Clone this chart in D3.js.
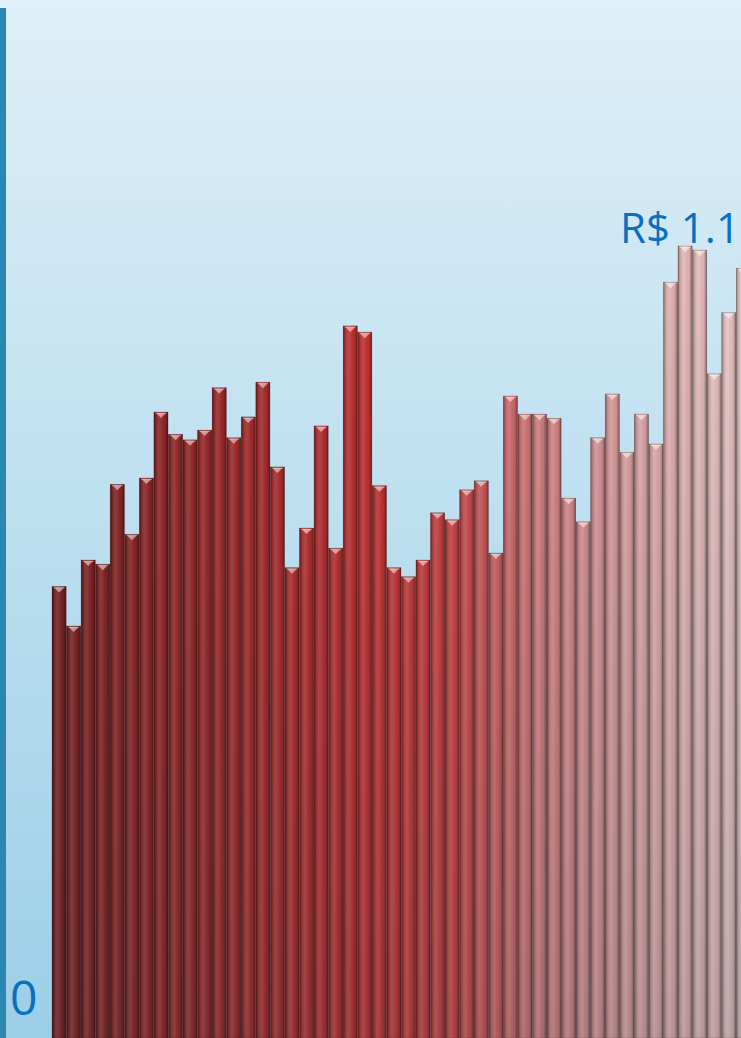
<!DOCTYPE html>
<html>
<head>
<meta charset="utf-8">
<script src="https://cdn.jsdelivr.net/npm/d3@7"></script>
<style>
  body { margin: 0; background: #fff; }
  svg { display: block; }
</style>
</head>
<body>
<svg width="741" height="1038"></svg>
<script>
// Monthly values (R$ bi)
var values = [0.650, 0.593, 0.688, 0.682, 0.797, 0.725, 0.806, 0.901, 0.869, 0.861,
              0.875, 0.936, 0.864, 0.894, 0.944, 0.822, 0.677, 0.734, 0.881, 0.705,
              1.025, 1.016, 0.795, 0.677, 0.664, 0.688, 0.756, 0.746, 0.789, 0.802,
              0.698, 0.924, 0.898, 0.898, 0.892, 0.777, 0.743, 0.864, 0.927, 0.843,
              0.898, 0.855, 1.088, 1.140, 1.134, 0.956, 1.044, 1.108];
var categories = values.map(function(d, i) { return "p" + (i + 1); });
var maxLabel = "R$ 1.1";
var zeroLabel = "0";

var svg = d3.select("svg"),
    width = +svg.attr("width"),
    height = +svg.attr("height");

var defs = svg.append("defs");

// background gradient
var bg = defs.append("linearGradient").attr("id", "bg")
    .attr("x1", 0).attr("y1", 0).attr("x2", 0).attr("y2", 1);
bg.append("stop").attr("offset", 0).attr("stop-color", "#dfeff8");
bg.append("stop").attr("offset", 1).attr("stop-color", "#9bcfe7");

// cylinder shading across each bar
var cyl = defs.append("linearGradient").attr("id", "cyl")
    .attr("x1", 0).attr("y1", 0).attr("x2", 1).attr("y2", 0);
[[0, "#000", 0.45], [0.1, "#000", 0.18], [0.35, "#fff", 0.1], [0.5, "#fff", 0.08],
 [0.75, "#000", 0.02], [0.9, "#000", 0.2], [1, "#000", 0.5]].forEach(function(s) {
  cyl.append("stop").attr("offset", s[0]).attr("stop-color", s[1]).attr("stop-opacity", s[2]);
});

// darkening toward the bottom of the plot
var fade = defs.append("linearGradient").attr("id", "fade")
    .attr("gradientUnits", "userSpaceOnUse")
    .attr("x1", 0).attr("y1", 240).attr("x2", 0).attr("y2", height);
fade.append("stop").attr("offset", 0).attr("stop-color", "#2a3440").attr("stop-opacity", 0);
fade.append("stop").attr("offset", 1).attr("stop-color", "#2a3440").attr("stop-opacity", 0.22);

svg.append("rect")
    .attr("width", width).attr("height", height)
    .attr("fill", "url(#bg)");
svg.append("rect")
    .attr("width", width).attr("height", 8)
    .attr("fill", "#e2f1f9");
svg.append("rect")
    .attr("y", 8).attr("width", 6).attr("height", height - 8)
    .attr("fill", "#2b86b2");

var x = d3.scaleBand()
    .domain(categories)
    .range([52, 52 + categories.length * 14.55])
    .paddingInner(0.03);

var y = d3.scaleLinear()
    .domain([0, d3.max(values)])
    .range([height, 246]);

var color = d3.scaleLinear()
    .domain([0, 12, 22, 27, 33, 40, 47])
    .range(["#7e1f1f", "#a22828", "#c53131", "#cb4242", "#d57e7e", "#dea7a7", "#e9c6c6"]);

var bars = svg.append("g")
    .attr("class", "bars")
  .selectAll("g")
  .data(values)
  .enter().append("g");

bars.append("rect")
    .attr("x", function(d, i) { return x(categories[i]); })
    .attr("y", function(d) { return y(d); })
    .attr("width", x.bandwidth())
    .attr("height", function(d) { return height - y(d); })
    .attr("fill", function(d, i) { return color(i); });

bars.append("rect")
    .attr("x", function(d, i) { return x(categories[i]); })
    .attr("y", function(d) { return y(d); })
    .attr("width", x.bandwidth())
    .attr("height", function(d) { return height - y(d); })
    .attr("fill", "url(#fade)");

bars.append("rect")
    .attr("x", function(d, i) { return x(categories[i]); })
    .attr("y", function(d) { return y(d); })
    .attr("width", x.bandwidth())
    .attr("height", function(d) { return height - y(d); })
    .attr("fill", "url(#cyl)")
    .attr("stroke", "rgba(50,20,20,0.35)")
    .attr("stroke-width", 0.6);

// light bevel on each bar top
bars.append("path")
    .attr("d", function(d, i) {
      var cx = x(categories[i]) + x.bandwidth() / 2, ty = y(d) + 1;
      return "M" + (cx - 5) + "," + ty + "L" + (cx + 5) + "," + ty + "L" + cx + "," + (ty + 5) + "Z";
    })
    .attr("fill", "#fff")
    .attr("fill-opacity", 0.5);

bars.append("rect")
    .attr("x", function(d, i) { return x(categories[i]) + 1.5; })
    .attr("y", function(d) { return y(d) + 0.5; })
    .attr("width", x.bandwidth() - 3)
    .attr("height", 1.5)
    .attr("fill", "#fff")
    .attr("fill-opacity", 0.25);

svg.append("text")
    .attr("x", 620)
    .attr("y", 243)
    .attr("font-family", "Open Sans")
    .attr("font-size", 42)
    .attr("fill", "#0a6fbf")
    .text(maxLabel);

svg.append("text")
    .attr("x", 10)
    .attr("y", 1015)
    .attr("font-family", "Open Sans")
    .attr("font-size", 48)
    .attr("fill", "#0a6fbf")
    .text(zeroLabel);
</script>
</body>
</html>
